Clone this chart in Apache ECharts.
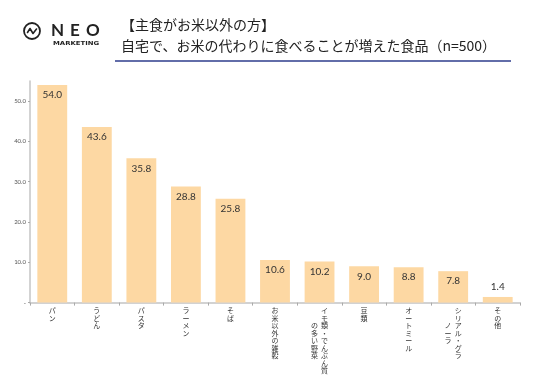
<!DOCTYPE html>
<html><head><meta charset="utf-8">
<script src="https://cdn.jsdelivr.net/npm/echarts@6/dist/echarts.min.js"></script>
<style>html,body{margin:0;padding:0;background:#fff}#c{width:536px;height:379px}</style>
</head><body><div id="c"></div>
<script>
const titleLine1 = '【主食がお米以外の方】';
const titleLine2 = '自宅で、お米の代わりに食べることが増えた食品（n=500）';
const categories = ['パン','うどん','パスタ','ラーメン','そば','お米以外の雑穀','イモ類・でんぷん質\nの多い野菜','豆類','オートミール','シリアル・グラ\nノーラ','その他'];
const values = [54.0, 43.6, 35.8, 28.8, 25.8, 10.6, 10.2, 9.0, 8.8, 7.8, 1.4];
const yMin = 0, yMax = 55, yInterval = 10;

function vertical(s){
  const cols = s.split('\n').map(c => Array.from(c));
  const maxLen = Math.max(...cols.map(c => c.length));
  const rows = [];
  for (let r = 0; r < maxLen; r++) {
    const parts = [];
    for (let k = cols.length - 1; k >= 0; k--) {
      const c = cols[k];
      const off = Math.floor((maxLen - c.length) / 2);
      parts.push((r >= off && r < off + c.length) ? c[r - off] : '\u3000');
    }
    rows.push(parts.join('  '));
  }
  return rows.join('\n');
}

const chart = echarts.init(document.getElementById('c'), null, {renderer:'canvas'});
chart.setOption({
  animation:false,
  backgroundColor:'#fff',
  title:[
    {text:titleLine1,left:116,top:13,textStyle:{fontFamily:'Noto Sans CJK JP',fontSize:14,fontWeight:'normal',color:'#222'}},
    {text:titleLine2,left:116,top:33.5,textStyle:{fontFamily:'Noto Sans CJK JP',fontSize:14,fontWeight:'normal',color:'#222'}}
  ],
  graphic:[
    {type:'line',shape:{x1:115,y1:61,x2:511,y2:61},style:{stroke:'#2E3C8C',lineWidth:1.5}},
    {type:'circle',shape:{cx:32,cy:31,r:8},style:{fill:'none',stroke:'#222',lineWidth:1.8}},
    {type:'polyline',shape:{points:[[27.5,32.5],[30,28.5],[33,33.5],[36.5,29]]},style:{fill:'none',stroke:'#222',lineWidth:1.6,lineJoin:'round',lineCap:'round'}},
    {type:'text',style:{text:'N',x:51,y:31,fill:'#222',font:'bold 17px Lato',textVerticalAlign:'middle'}},
    {type:'text',style:{text:'E',x:70,y:31,fill:'#222',font:'bold 17px Lato',textVerticalAlign:'middle'}},
    {type:'text',style:{text:'O',x:86,y:31,fill:'#222',font:'bold 17px Lato',textVerticalAlign:'middle'}},
    {type:'text',x:53,y:44,scaleX:1.25,style:{text:'MARKETING',x:0,y:0,fill:'#222',font:'bold 5.5px "DejaVu Sans"',textVerticalAlign:'middle'}}
  ],
  grid:{left:30,right:16,top:81,bottom:76.4,containLabel:false},
  xAxis:{
    type:'category',data:categories,
    axisLine:{lineStyle:{color:'#c4c4c4',width:1.5}},
    axisTick:{show:true,length:3,lineStyle:{color:'#aaa'}},
    axisLabel:{interval:0,margin:4,fontFamily:'Noto Sans CJK JP',fontSize:7,lineHeight:7.5,color:'#333',verticalAlign:'top',formatter:vertical}
  },
  yAxis:{
    type:'value',min:yMin,max:yMax,interval:yInterval,
    splitLine:{show:false},
    axisLine:{show:true,lineStyle:{color:'#c4c4c4',width:1.5}},
    axisTick:{show:true,length:2,lineStyle:{color:'#aaa'}},
    axisLabel:{showMaxLabel:false,margin:4,fontFamily:'Lato',fontSize:6,color:'#555',
      formatter:v => v===0 ? '-' : v.toFixed(1)}
  },
  series:[{
    type:'bar',
    data:values.map(v => ({value:v,label:{position: v < 3 ? 'top' : 'insideTop'}})),
    barCategoryGap:'33%',
    itemStyle:{color:'#FDD8A3'},
    label:{show:true,distance:5,fontFamily:'Lato',fontSize:10,color:'#333',formatter:p => p.value.toFixed(1)}
  }]
});
</script></body></html>
